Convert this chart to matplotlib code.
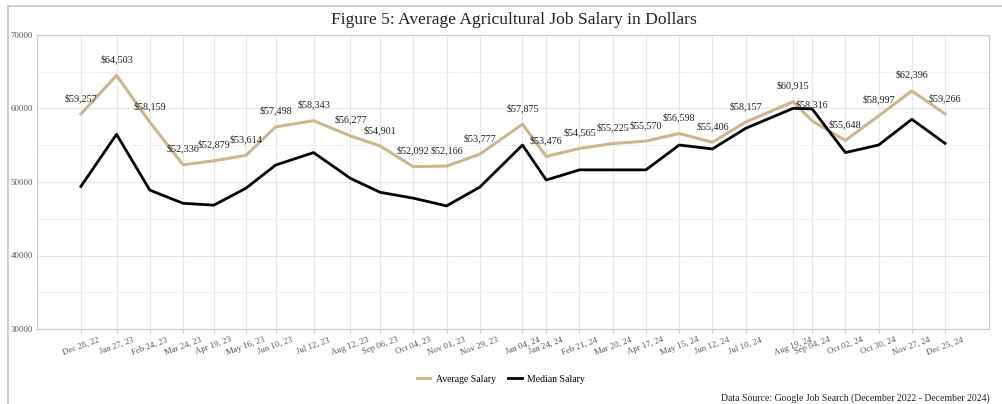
import numpy as np
import pandas as pd
import matplotlib
matplotlib.use("Agg")
from matplotlib import pyplot as plt
from matplotlib.patches import Rectangle

# data
dates = ["2022-12-28", "2023-01-27", "2023-02-24", "2023-03-24", "2023-04-19", "2023-05-16",
         "2023-06-10", "2023-07-12", "2023-08-12", "2023-09-06", "2023-10-04", "2023-11-01",
         "2023-11-29", "2024-01-04", "2024-01-24", "2024-02-21", "2024-03-20", "2024-04-17",
         "2024-05-15", "2024-06-12", "2024-07-10", "2024-08-19", "2024-09-04", "2024-10-02",
         "2024-10-30", "2024-11-27", "2024-12-25"]
tick_labels = ["Dec 28, 22", "Jan 27, 23", "Feb 24, 23", "Mar 24, 23", "Apr 19, 23", "May 16, 23",
               "Jun 10, 23", "Jul 12, 23", "Aug 12, 23", "Sep 06, 23", "Oct 04, 23", "Nov 01, 23",
               "Nov 29, 23", "Jan 04, 24", "Jan 24, 24", "Feb 21, 24", "Mar 20, 24", "Apr 17, 24",
               "May 15, 24", "Jun 12, 24", "Jul 10, 24", "Aug 19, 24", "Sep 04, 24", "Oct 02, 24",
               "Oct 30, 24", "Nov 27, 24", "Dec 25, 24"]
avg_salary = [59257, 64503, 58159, 52336, 52879, 53614, 57498, 58343, 56277, 54901, 52092, 52166,
              53777, 57875, 53476, 54565, 55225, 55570, 56598, 55406, 58157, 60915, 58316, 55648,
              58997, 62396, 59266]
median_salary = [49400, 56490, 48900, 47100, 46850, 49150, 52300, 54000, 50500, 48600, 47800, 46750,
                 49300, 55030, 50270, 51650, 51650, 51650, 55030, 54500, 57300, 60020, 59950, 54000,
                 55030, 58530, 55260]

x = pd.to_datetime(dates)

plt.rcParams['font.family'] = ['Liberation Serif', 'DejaVu Serif']

fig = plt.figure(figsize=(10.02, 4.04), dpi=100)
W, H = 1002, 404
ax = fig.add_axes([37 / W, 1 - 329 / H, (989 - 37) / W, (329 - 35) / H])

# cadre externe
fig.patches.append(Rectangle((8 / W, -0.1), 1.2, 1 - 6 / H + 0.1, transform=fig.transFigure,
                             fill=False, edgecolor="#c8c8c8", linewidth=1.2))

tan = "#cdb68f"
ax.plot(x, avg_salary, color=tan, linewidth=2.2, label="Average Salary", zorder=3)
ax.plot(x, median_salary, color="black", linewidth=2.0, label="Median Salary", zorder=3)

for xi, v in zip(x, avg_salary):
    ax.annotate("${:,}".format(v), (xi, v), xytext=(0, 11.5), textcoords="offset points",
                ha="center", va="center", fontsize=7.3, color="#222222")

ax.set_ylim(30000, 70000)
ax.set_xlim(pd.Timestamp("2022-11-21"), pd.Timestamp("2025-01-31"))
ax.set_yticks([30000, 40000, 50000, 60000, 70000])
ax.set_yticks([35000, 45000, 55000, 65000], minor=True)
ax.set_xticks(x)
ax.set_xticklabels(tick_labels, rotation=20, ha="center")
ax.tick_params(axis="x", labelsize=6.3, colors="#555555", length=3, color="#cccccc", pad=2)
ax.tick_params(axis="y", which="both", labelsize=6.3, colors="#555555", length=0, pad=3)
ax.grid(True, which="major", color="#e6e6e6", linewidth=0.8)
ax.grid(True, which="minor", axis="y", color="#f1f1f1", linewidth=0.8)
ax.set_axisbelow(True)
for s in ax.spines.values():
    s.set_color("#cccccc")
    s.set_linewidth(0.9)

fig.text(0.513, 1 - 20 / H, "Figure 5: Average Agricultural Job Salary in Dollars",
         ha="center", va="center", fontsize=12.6, color="#222222")

fig.legend(loc="center", bbox_to_anchor=(0.5, 1 - 379 / H), ncol=2, frameon=False,
           fontsize=7, handlelength=1.4, columnspacing=1.2, handletextpad=0.6)

fig.text(990 / W, 1 - 398 / H, "Data Source: Google Job Search (December 2022 - December 2024)",
         ha="right", va="center", fontsize=7, color="#222222")

fig.savefig("out.png", dpi=100)
